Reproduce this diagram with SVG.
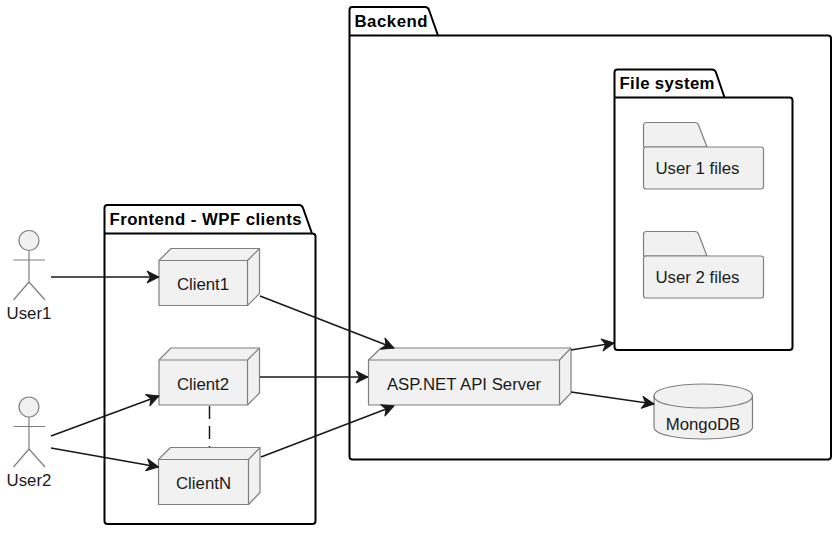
<svg xmlns="http://www.w3.org/2000/svg" width="839" height="533" viewBox="0 0 839 533">
<style>
.pkg{fill:#fff;stroke:#000;stroke-width:2;stroke-linejoin:round}
.el{fill:#f1f1f1;stroke:#7f7f7f;stroke-width:1.2;stroke-linejoin:round}
.ln{fill:none;stroke:#7f7f7f;stroke-width:1.2}
.t{font-family:"Liberation Sans",Arial,sans-serif;font-size:16.800px;fill:#1a1a1a}
.m{text-anchor:middle}
.b{font-family:"Liberation Sans",Arial,sans-serif;font-size:16.800px;font-weight:bold;fill:#000}
.c{fill:none;stroke:#181818;stroke-width:1.5}
.h{fill:#181818;stroke:#181818;stroke-width:1;stroke-linejoin:round}
</style>
<defs>
<marker id="a" markerUnits="userSpaceOnUse" markerWidth="18" markerHeight="14" refX="12" refY="6" orient="auto" overflow="visible">
<path class="h" d="M0 0L12 6L0 12L3.500 6Z"/>
</marker>
</defs>
<rect width="839" height="533" fill="#fff"/>
<g id="pkg-backend"><path class="pkg" d="M352 7H425Q428 7 429 10L438 35.500H828Q831 35.500 831 38.500V456.500Q831 459.500 828 459.500H352.500Q349.500 459.500 349.500 456.500V10Q349.500 7 352 7Z"/><path class="pkg" d="M349.500 35.500H438"/><text class="b" x="354.500" y="27" textLength="73" lengthAdjust="spacing">Backend</text></g>
<g id="pkg-frontend"><path class="pkg" d="M107.500 205H299Q302 205 303 208L312 233.500Q315.500 233.500 315.500 236.500V521Q315.500 524 312.500 524H107.500Q104.500 524 104.500 521V208Q104.500 205 107.500 205Z"/><path class="pkg" d="M104.500 233.500H312"/><text class="b" x="109.500" y="225" textLength="192" lengthAdjust="spacing">Frontend - WPF clients</text></g>
<g id="pkg-files"><path class="pkg" d="M617.500 69.500H712Q715 69.500 716 72.500L724.500 97.500H789.500Q792.500 97.500 792.500 100.500V347Q792.500 350 789.500 350H617.500Q614.500 350 614.500 347V72.500Q614.500 69.500 617.500 69.500Z"/><path class="pkg" d="M614.500 97.500H724.500"/><text class="b" x="619.500" y="89" textLength="95" lengthAdjust="spacing">File system</text></g>
<g id="user1"><circle class="el" cx="29" cy="240.500" r="10"/><path class="ln" d="M29 250.500V282M13.500 260H45M29 282L13.500 300M29 282L45 300"/><text class="t m" x="29" y="319">User1</text></g>
<g id="user2"><circle class="el" cx="29" cy="407" r="10"/><path class="ln" d="M29 417V449M13.500 426.500H45M29 449L13.500 467M29 449L45 467"/><text class="t m" x="29" y="486">User2</text></g>
<g id="client1"><path class="el" d="M159 260.500L171 248.500H259.500V293.500L247.500 305.500H159Z"/><path class="ln" d="M159 260.500H247.500V305.500M247.500 260.500L259.500 248.500"/><text class="t m" x="203" y="290">Client1</text></g>
<g id="client2"><path class="el" d="M159 360L171 348H259.500V393L247.500 405H159Z"/><path class="ln" d="M159 360H247.500V405M247.500 360L259.500 348"/><text class="t m" x="203" y="390">Client2</text></g>
<g id="clientn"><path class="el" d="M158.500 459.500L170.500 447.500H260V492.500L248.500 504.500H158.500Z"/><path class="ln" d="M158.500 459.500H248.500V504.500M248.500 459.500L260 447.500"/><text class="t m" x="203.500" y="489">ClientN</text></g>
<g id="server"><path class="el" d="M368.500 360L381 348H571V393L559.500 405H368.500Z"/><path class="ln" d="M368.500 360H559.500V405M559.500 360L571 348"/><text class="t m" x="464" y="390">ASP.NET API Server</text></g>
<g id="mongodb"><path class="el" d="M654 396C654 380 752.500 380 752.500 396V427C752.500 443 654 443 654 427Z"/><path class="ln" d="M654 396C654 412 752.500 412 752.500 396"/><text class="t m" x="703" y="430">MongoDB</text></g>
<g id="user1files"><path class="el" d="M646.500 122.500H695Q697.500 122.500 698.500 125L707 147H644Q643.500 147 643.500 146V125.500Q643.500 122.500 646.500 122.500Z"/><rect class="el" x="643.500" y="147" width="120" height="42" rx="2.500"/><text class="t" x="655.500" y="174">User 1 files</text></g>
<g id="user2files"><path class="el" d="M646.500 231.500H695Q697.500 231.500 698.500 234L707 256H644Q643.500 256 643.500 255V234.500Q643.500 231.500 646.500 231.500Z"/><rect class="el" x="643.500" y="256" width="120" height="42" rx="2.500"/><text class="t" x="655.500" y="283">User 2 files</text></g>
<g id="connectors">
<path class="c" marker-end="url(#a)" d="M51 277H159"/>
<path class="c" marker-end="url(#a)" d="M51 436L159 396"/>
<path class="c" marker-end="url(#a)" d="M51 448L158.500 467"/>
<path class="c" stroke-dasharray="13 7" d="M209.500 406V447"/>
<path class="c" marker-end="url(#a)" d="M260 296L394 348"/>
<path class="c" marker-end="url(#a)" d="M260 377H368"/>
<path class="c" marker-end="url(#a)" d="M261 457L394 406"/>
<path class="c" marker-end="url(#a)" d="M571 350L614 343"/>
<path class="c" marker-end="url(#a)" d="M571 392L654 404"/>
</g>
</svg>
